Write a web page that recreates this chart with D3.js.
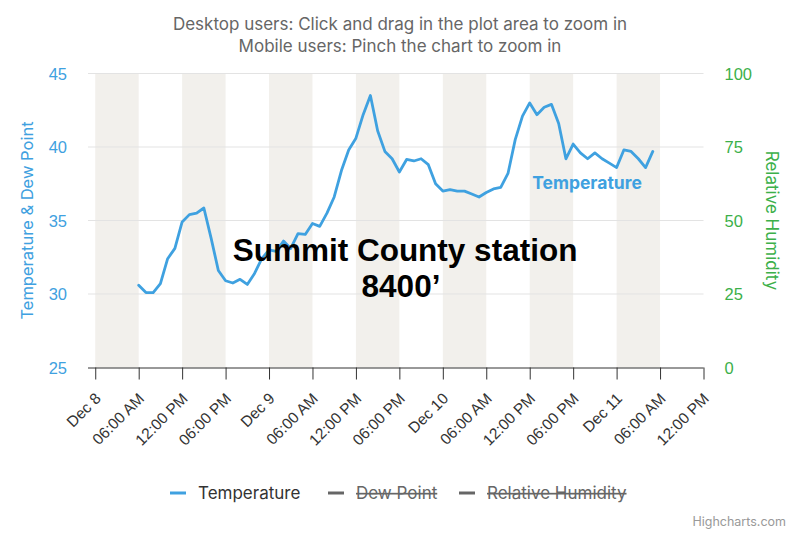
<!DOCTYPE html>
<html>
<head>
<meta charset="utf-8">
<script src="https://cdn.jsdelivr.net/npm/d3@7"></script>
<style>
  body { margin: 0; background: #fff; }
  svg { font-family: Inter, "Helvetica Neue", Arial, sans-serif; }
  .heavy { font-family: "Liberation Sans", Arial, Helvetica, sans-serif; }
</style>
</head>
<body>
<svg id="chart" width="800" height="533"></svg>
<script>
// hourly readings, Dec 8 06:00 .. Dec 11 05:00
var times = [
  "2023-12-08T06:00", "2023-12-08T07:00", "2023-12-08T08:00", "2023-12-08T09:00", "2023-12-08T10:00", "2023-12-08T11:00",
  "2023-12-08T12:00", "2023-12-08T13:00", "2023-12-08T14:00", "2023-12-08T15:00", "2023-12-08T16:00", "2023-12-08T17:00",
  "2023-12-08T18:00", "2023-12-08T19:00", "2023-12-08T20:00", "2023-12-08T21:00", "2023-12-08T22:00", "2023-12-08T23:00",
  "2023-12-09T00:00", "2023-12-09T01:00", "2023-12-09T02:00", "2023-12-09T03:00", "2023-12-09T04:00", "2023-12-09T05:00",
  "2023-12-09T06:00", "2023-12-09T07:00", "2023-12-09T08:00", "2023-12-09T09:00", "2023-12-09T10:00", "2023-12-09T11:00",
  "2023-12-09T12:00", "2023-12-09T13:00", "2023-12-09T14:00", "2023-12-09T15:00", "2023-12-09T16:00", "2023-12-09T17:00",
  "2023-12-09T18:00", "2023-12-09T19:00", "2023-12-09T20:00", "2023-12-09T21:00", "2023-12-09T22:00", "2023-12-09T23:00",
  "2023-12-10T00:00", "2023-12-10T01:00", "2023-12-10T02:00", "2023-12-10T03:00", "2023-12-10T04:00", "2023-12-10T05:00",
  "2023-12-10T06:00", "2023-12-10T07:00", "2023-12-10T08:00", "2023-12-10T09:00", "2023-12-10T10:00", "2023-12-10T11:00",
  "2023-12-10T12:00", "2023-12-10T13:00", "2023-12-10T14:00", "2023-12-10T15:00", "2023-12-10T16:00", "2023-12-10T17:00",
  "2023-12-10T18:00", "2023-12-10T19:00", "2023-12-10T20:00", "2023-12-10T21:00", "2023-12-10T22:00", "2023-12-10T23:00",
  "2023-12-11T00:00", "2023-12-11T01:00", "2023-12-11T02:00", "2023-12-11T03:00", "2023-12-11T04:00", "2023-12-11T05:00"
];
var temperature = [
  30.6, 30.1, 30.1, 30.7, 32.4, 33.1,
  34.9, 35.4, 35.5, 35.85, 33.8, 31.6,
  30.9, 30.75, 31.0, 30.65, 31.4, 32.4,
  33.0, 32.9, 33.6, 33.1, 34.1, 34.05,
  34.8, 34.6, 35.5, 36.6, 38.4, 39.8,
  40.6, 42.2, 43.5, 41.1, 39.7, 39.2,
  38.3, 39.15, 39.05, 39.2, 38.8, 37.5,
  37.0, 37.1, 37.0, 37.0, 36.8, 36.6,
  36.9, 37.15, 37.25, 38.2, 40.5, 42.1,
  43.0, 42.2, 42.7, 42.9, 41.6, 39.2,
  40.2, 39.6, 39.2, 39.6, 39.2, 38.9,
  38.6, 39.8, 39.7, 39.2, 38.6, 39.7
];
var xTicks = [
  "2023-12-08T00:00", "2023-12-08T06:00", "2023-12-08T12:00", "2023-12-08T18:00",
  "2023-12-09T00:00", "2023-12-09T06:00", "2023-12-09T12:00", "2023-12-09T18:00",
  "2023-12-10T00:00", "2023-12-10T06:00", "2023-12-10T12:00", "2023-12-10T18:00",
  "2023-12-11T00:00", "2023-12-11T06:00", "2023-12-11T12:00"
];
var tempTicks = [25, 30, 35, 40, 45];
var humidityTicks = [0, 25, 50, 75, 100];
var legendNames = ["Temperature", "Dew Point", "Relative Humidity"];
var titleLines = ["Desktop users: Click and drag in the plot area to zoom in", "Mobile users: Pinch the chart to zoom in"];

var blue = "#3fa1e0", green = "#3cb04a";
var parse = d3.timeParse("%Y-%m-%dT%H:%M");
var plot = {left: 88, right: 703.5, top: 73.5, bottom: 367.5};

var svg = d3.select("#chart");

var x = d3.scaleTime()
    .domain([parse("2023-12-07T23:00"), parse("2023-12-11T12:00")])
    .range([plot.left, plot.right]);
var yTemp = d3.scaleLinear().domain([25, 45]).range([plot.bottom, plot.top]);
var yHum = d3.scaleLinear().domain([0, 100]).range([plot.bottom, plot.top]);

var tickDates = xTicks.map(parse);

// alternate bands between x ticks
var bands = [];
for (var i = 0; i < tickDates.length - 1; i += 2) bands.push([tickDates[i], tickDates[i + 1]]);
svg.append("g").selectAll("rect")
    .data(bands)
    .enter().append("rect")
    .attr("x", function(d) { return x(d[0]); })
    .attr("width", function(d) { return x(d[1]) - x(d[0]); })
    .attr("y", plot.top)
    .attr("height", plot.bottom - plot.top)
    .attr("fill", "#f2f0ec");

// horizontal grid
svg.append("g").selectAll("line")
    .data(tempTicks.slice(1))
    .enter().append("line")
    .attr("x1", plot.left).attr("x2", plot.right)
    .attr("y1", function(d) { return yTemp(d); })
    .attr("y2", function(d) { return yTemp(d); })
    .attr("stroke", "#e3e3e3").attr("stroke-width", 1);

// title
svg.append("g").selectAll("text")
    .data(titleLines)
    .enter().append("text")
    .attr("x", 400).attr("y", function(d, i) { return 30 + i * 22; })
    .attr("text-anchor", "middle")
    .attr("fill", "#666").style("font-size", "17px")
    .text(function(d) { return d; });

// x axis
var fmtDay = d3.timeFormat("%b %-d"), fmtHour = d3.timeFormat("%I:%M %p");
var xAxis = svg.append("g")
    .attr("transform", "translate(0," + plot.bottom + ")")
    .call(d3.axisBottom(x).tickValues(tickDates).tickSize(12)
        .tickFormat(function(d) { return d.getHours() === 0 ? fmtDay(d) : fmtHour(d); }));
xAxis.select(".domain").attr("stroke", "#333").attr("d", "M" + plot.left + ",0.5H" + plot.right);
xAxis.selectAll(".tick line").attr("stroke", "#333");
xAxis.selectAll(".tick text")
    .attr("fill", "#333").style("font-size", "15.5px")
    .attr("text-anchor", "end")
    .attr("x", 0).attr("y", 0).attr("dy", 0)
    .attr("transform", "translate(6,32) rotate(-45)");

// left axis
var yl = svg.append("g")
    .attr("transform", "translate(" + plot.left + ",0)")
    .call(d3.axisLeft(yTemp).tickValues(tempTicks).tickSize(0).tickPadding(21));
yl.select(".domain").remove();
yl.selectAll(".tick text").attr("fill", blue).style("font-size", "16.5px").attr("dy", "0.35em");
svg.append("text")
    .attr("transform", "translate(33," + ((plot.top + plot.bottom) / 2) + ") rotate(-90)")
    .attr("text-anchor", "middle").attr("fill", blue).style("font-size", "16.5px")
    .text("Temperature & Dew Point");

// right axis
var yr = svg.append("g")
    .attr("transform", "translate(" + plot.right + ",0)")
    .call(d3.axisRight(yHum).tickValues(humidityTicks).tickSize(0).tickPadding(21));
yr.select(".domain").remove();
yr.selectAll(".tick text").attr("fill", green).style("font-size", "16.5px").attr("dy", "0.35em");
svg.append("text")
    .attr("transform", "translate(766," + ((plot.top + plot.bottom) / 2) + ") rotate(90)")
    .attr("text-anchor", "middle").attr("fill", green).style("font-size", "17px")
    .text("Relative Humidity");

// temperature line
var line = d3.line()
    .x(function(d, i) { return x(parse(times[i])); })
    .y(function(d) { return yTemp(d); });
svg.append("path")
    .datum(temperature)
    .attr("d", line)
    .attr("fill", "none").attr("stroke", blue)
    .attr("stroke-width", 2.8).attr("stroke-linejoin", "round").attr("stroke-linecap", "round");

svg.append("text")
    .attr("x", 587).attr("y", 189)
    .attr("text-anchor", "middle").attr("fill", blue)
    .style("font-size", "17.5px").style("font-weight", "bold")
    .text("Temperature");

// annotation
svg.append("text")
    .attr("class", "heavy")
    .attr("x", 405).attr("y", 261)
    .attr("text-anchor", "middle").attr("fill", "#000")
    .style("font-size", "31.5px").style("font-weight", "bold")
    .text("Summit County station");
svg.append("text")
    .attr("class", "heavy")
    .attr("x", 401).attr("y", 297)
    .attr("text-anchor", "middle").attr("fill", "#000")
    .style("font-size", "31.5px").style("font-weight", "bold")
    .text("8400\u2019");

// legend
var legendX = [170, 328, 459];
var lg = svg.append("g").selectAll("g")
    .data(legendNames)
    .enter().append("g")
    .attr("transform", function(d, i) { return "translate(" + legendX[i] + ",493)"; });
lg.append("line")
    .attr("x1", 0).attr("x2", 16).attr("y1", 0).attr("y2", 0)
    .attr("stroke", function(d, i) { return i === 0 ? blue : "#666"; })
    .attr("stroke-width", 3);
lg.append("text")
    .attr("x", 28).attr("y", 6)
    .attr("fill", function(d, i) { return i === 0 ? "#333" : "#666"; })
    .style("font-size", "17px")
    .style("text-decoration", function(d, i) { return i === 0 ? "none" : "line-through"; })
    .text(function(d) { return d; });

svg.append("text")
    .attr("x", 786).attr("y", 526)
    .attr("text-anchor", "end").attr("fill", "#999")
    .style("font-size", "12.5px")
    .text("Highcharts.com");
</script>
</body>
</html>
